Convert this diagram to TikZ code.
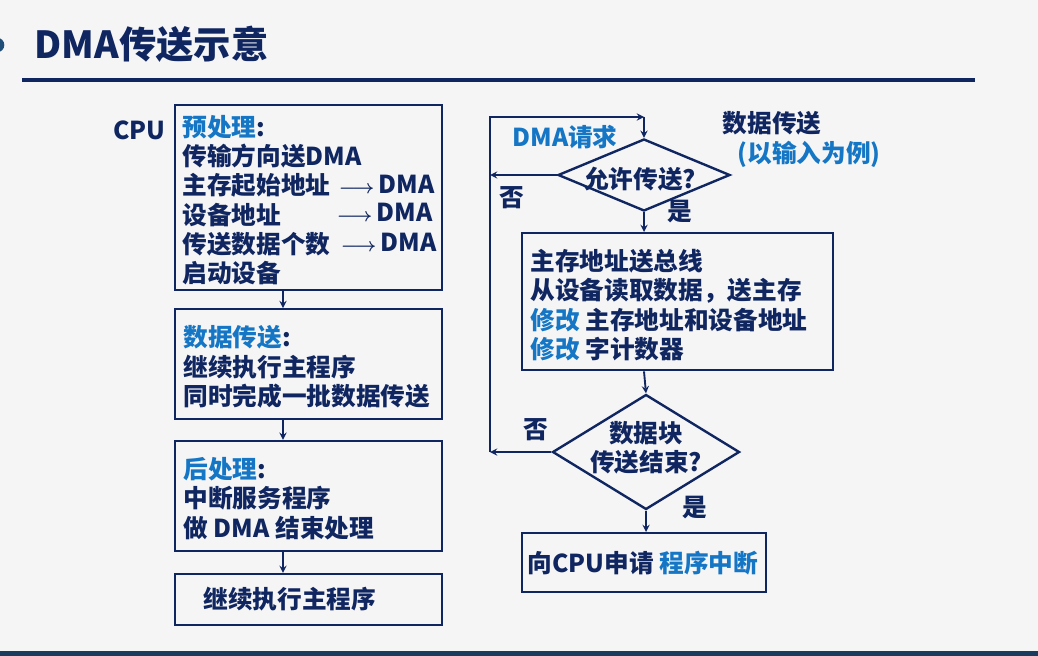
\documentclass[tikz,border=0pt]{standalone}
\usepackage{fontspec}
\setmainfont{Noto Sans CJK SC}
\usetikzlibrary{positioning,shapes.geometric}
\definecolor{navy}{RGB}{16,38,96}
\definecolor{hlblue}{RGB}{20,118,196}
\definecolor{barblue}{RGB}{26,58,94}
\definecolor{dotblue}{RGB}{31,78,121}
\tikzset{
every node/.style={font=\bfseries\fontsize{18.5}{22}\selectfont, text=navy, inner sep=1pt}
, box/.style={draw=navy, line width=1.8pt, inner sep=0, anchor=north west}
, decision/.style={diamond, draw=navy, line width=1.8pt, inner sep=0}
, flow/.style={draw=navy, line width=1.4pt, -stealth}
, hl/.style={text=hlblue}}
\def\sarrow{{\fontsize{14}{14}\selectfont\boldmath$\longrightarrow$}}

\begin{document}
\begin{tikzpicture}[x=0.75pt, y=-0.75pt]
\fill[black!4] (0,0) rectangle (1038,656);
\useasboundingbox (0,0) rectangle (1038,656);
\fill[barblue] (0,651) rectangle (1038,656);
\fill[dotblue] (-3,45) circle [radius=5.5pt];
\node[anchor=west, font=\bfseries\fontsize{28}{30}\selectfont] (title) at (33,44) {DMA传送示意};
\draw[navy, line width=2.4pt] (22,80) -- (975,80);
% CPU side
\node[box, minimum width=200.25pt, minimum height=138.75pt] (pre) at (174,104) {};
\node[box, below=12.5pt of pre, minimum width=200.25pt, minimum height=82.5pt] (xfer) {};
\node[box, below=14.5pt of xfer, minimum width=200.25pt, minimum height=82.5pt] (post) {};
\node[box, below=15.5pt of post, minimum width=200.25pt, minimum height=38.25pt] (cont) {};
\node[anchor=east] (cpu) at (167,130) {CPU};
\node[anchor=west, align=left] (pretxt) at (181,200) {\textcolor{hlblue}{预处理}:\\传输方向送DMA\\主存起始地址\\设备地址\\传送数据个数\\启动设备};
\node[anchor=east] (dmaA) at (436,184) {\sarrow\,DMA};
\node[anchor=east] (dmaB) at (434,212) {\sarrow\,DMA};
\node[anchor=east] (dmaC) at (438,242) {\sarrow\,DMA};
\node[anchor=west, align=left] (xfertxt) at ([xshift=6pt, yshift=-2pt]xfer.west) {\textcolor{hlblue}{数据传送}:\\继续执行主程序\\同时完成一批数据传送};
\node[anchor=west, align=left] (posttxt) at ([xshift=6pt, yshift=-2pt]post.west) {\textcolor{hlblue}{后处理}:\\中断服务程序\\做 DMA 结束处理};
\node[anchor=west] (conttxt) at ([xshift=21pt]cont.west) {继续执行主程序};
\coordinate (spine) at (283,0);
\draw[flow] (pre.south -| spine) -- (xfer.north -| spine);
\draw[flow] (xfer.south -| spine) -- (post.north -| spine);
\draw[flow] (post.south -| spine) -- (cont.north -| spine);
% DMA side
\node[decision, minimum width=129pt, minimum height=54pt] (allow) at (644,175) {};
\node (allowtxt) at (640,179) {允许传送?};
\node[hl] (req) at (565,137) {DMA请求};
\node (no1) at (512,198) {否};
\node (yes1) at (680,212) {是};
\node (mode) at (772,123) {数据传送};
\node[hl] (eg) at (809,154) {(以输入为例)};
\node[box, minimum width=233.25pt, minimum height=102.75pt] (move) at (521,232) {};
\node[anchor=west, align=left] (movetxt) at (529,305) {主存地址送总线\\从设备读取数据，送主存\\\textcolor{hlblue}{修改} 主存地址和设备地址\\\textcolor{hlblue}{修改} 字计数器};
\node[decision, minimum width=140.25pt, minimum height=86.25pt] (done) at (646,452) {};
\node[align=center] (donetxt) at (646,448) {数据块\\传送结束?};
\node (no2) at (536,430) {否};
\node (yes2) at (695,508) {是};
\node[box, minimum width=183pt, minimum height=44.25pt] (irq) at (521,532) {};
\node (irqtxt) at (643,563) {向CPU申请 \textcolor{hlblue}{程序中断}};
\coordinate (loopx) at (490,117);
\coordinate (top) at (allow.north |- loopx);
\draw[flow] (allow.south) -- (allow.south |- move.north);
\draw[flow] (allow.south |- move.south) -- (done.north);
\draw[flow] (done.south) -- (done.south |- irq.north);
\draw[flow] (allow.west) -- (allow.west -| loopx);
\draw[flow] (done.west) -- (done.west -| loopx);
\draw[flow] (done.west -| loopx) -- (loopx) -- (top);
\draw[flow] (top) -- (allow.north);
\end{tikzpicture}
\end{document}
